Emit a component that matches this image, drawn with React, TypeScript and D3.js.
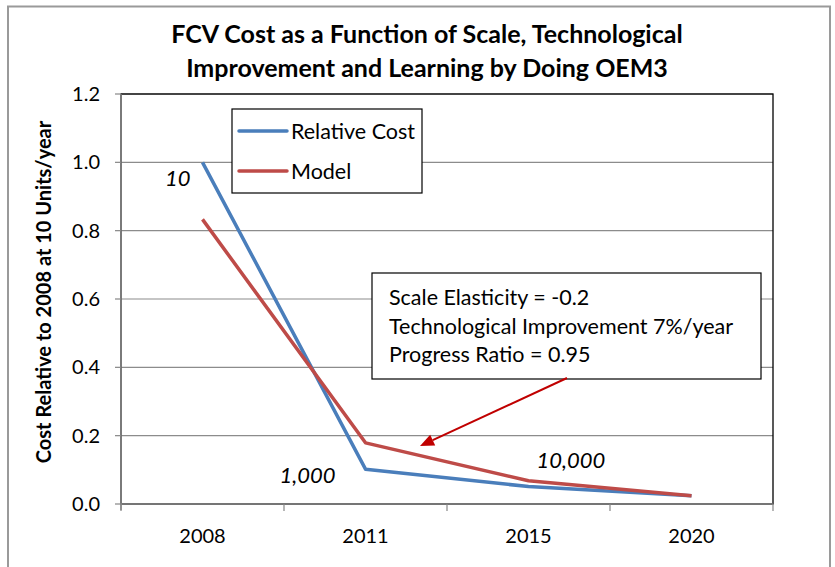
import React from "react";
import * as d3 from "d3";

const years = ["2008", "2011", "2015", "2020"];
const relativeCost = [1.0, 0.102, 0.051, 0.024];
const model = [0.833, 0.179, 0.068, 0.024];
const yTicks = [0, 0.2, 0.4, 0.6, 0.8, 1.0, 1.2];
const volumeLabels = [
  { text: "10", year: "2008", value: 0.95, dx: -12 },
  { text: "1,000", year: "2011", value: 0.082, dx: -30 },
  { text: "10,000", year: "2015", value: 0.125, dx: 8 },
];
const titleLines = [
  "FCV Cost as a Function of Scale, Technological",
  "Improvement and Learning by Doing OEM3",
];
const noteLines = [
  "Scale Elasticity = -0.2",
  "Technological Improvement 7%/year",
  "Progress Ratio = 0.95",
];
const series = [
  { name: "Relative Cost", values: relativeCost, color: "#4A7EBB" },
  { name: "Model", values: model, color: "#BE4B48" },
];

const W = 835;
const H = 567;
const FONT = "Lato, 'Open Sans', sans-serif";

export default function App() {
  const left = 121;
  const right = 773;
  const top = 94;
  const bottom = 504;
  const x = d3.scaleBand<string>().domain(years).range([left, right]);
  const y = d3.scaleLinear().domain([0, 1.2]).range([bottom, top]);
  const cx = (yr: string) => (x(yr) as number) + x.bandwidth() / 2;
  const line = d3
    .line<number>()
    .x((_, i) => cx(years[i]))
    .y((d) => y(d));

  const boundaries = years.map((yr) => x(yr) as number).concat([right]);

  // arrow
  const ax1 = 567, ay1 = 378, ax2 = 420, ay2 = 446;
  const ang = Math.atan2(ay2 - ay1, ax2 - ax1);
  const hl = 14, hw = 6;
  const bx = ax2 - hl * Math.cos(ang);
  const by = ay2 - hl * Math.sin(ang);
  const px = -Math.sin(ang) * hw;
  const py = Math.cos(ang) * hw;

  return (
    <svg
      width={W}
      height={H}
      style={{ position: "absolute", left: 0, top: 0, background: "#fff" }}
      fontFamily={FONT}
    >
      <rect x={0} y={0} width={W} height={H} fill="#fff" />
      <rect x={8} y={6.5} width={822} height={600} fill="#fff" stroke="#9a9a9a" strokeWidth={2} />

      {titleLines.map((t, i) => (
        <text
          key={i}
          x={427}
          y={43 + i * 34}
          textAnchor="middle"
          fontSize={25}
          fontWeight="bold"
          fill="#000"
        >
          {t}
        </text>
      ))}

      {/* gridlines */}
      {yTicks.map((t) => (
        <line key={t} x1={left} x2={right} y1={y(t)} y2={y(t)} stroke="#8c8c8c" strokeWidth={1.2} />
      ))}
      {/* plot border */}
      <rect x={left} y={top} width={right - left} height={bottom - top} fill="none" stroke="#000" strokeWidth={1.3} />
      {/* axes */}
      <line x1={left} x2={left} y1={top} y2={bottom + 6} stroke="#868686" strokeWidth={1.5} />
      <line x1={left} x2={right} y1={bottom} y2={bottom} stroke="#868686" strokeWidth={1.5} />
      {yTicks.map((t) => (
        <g key={"yt" + t}>
          <line x1={left - 6} x2={left} y1={y(t)} y2={y(t)} stroke="#868686" strokeWidth={1.2} />
          <text x={100} y={y(t) + 7} textAnchor="end" fontSize={20} fill="#000">
            {t.toFixed(1)}
          </text>
        </g>
      ))}
      {boundaries.map((b, i) => (
        <line key={"xt" + i} x1={b} x2={b} y1={bottom} y2={bottom + 7} stroke="#868686" strokeWidth={1.2} />
      ))}
      {years.map((yr) => (
        <text key={yr} x={cx(yr)} y={543} textAnchor="middle" fontSize={20} fill="#000">
          {yr}
        </text>
      ))}

      <text
        transform={`translate(51,292) rotate(-90)`}
        textAnchor="middle"
        fontSize={20}
        fontWeight="bold"
        fill="#000"
      >
        Cost Relative to 2008 at 10 Units/year
      </text>

      {/* series */}
      {series.map((s) => (
        <path
          key={s.name}
          d={line(s.values) as string}
          fill="none"
          stroke={s.color}
          strokeWidth={3.5}
          strokeLinejoin="round"
        />
      ))}

      {/* volume labels */}
      {volumeLabels.map((l) => (
        <text
          key={l.text}
          x={cx(l.year) + l.dx}
          y={y(l.value) + 7}
          fontSize={22}
          fontStyle="italic"
          textAnchor={l.dx < 0 ? "end" : "start"}
          fill="#000"
        >
          {l.text}
        </text>
      ))}

      {/* legend */}
      <rect x={232} y={109} width={190} height={84} fill="#fff" stroke="#000" strokeWidth={1.2} />
      {series.map((s, i) => (
        <g key={"lg" + s.name}>
          <line x1={239} x2={287} y1={131 + i * 40} y2={131 + i * 40} stroke={s.color} strokeWidth={3.5} strokeLinecap="round" />
          <text x={291} y={131 + i * 40 + 7.5} fontSize={21.5} fill="#000">
            {s.name}
          </text>
        </g>
      ))}

      {/* annotation */}
      <rect x={372} y={273} width={389} height={106} fill="#fff" stroke="#000" strokeWidth={1.2} />
      {noteLines.map((t, i) => (
        <text key={i} x={389} y={305 + i * 28.5} fontSize={21.5} fill="#000">
          {t}
        </text>
      ))}
      <line x1={ax1} y1={ay1} x2={bx} y2={by} stroke="#C00000" strokeWidth={2} />
      <polygon
        points={`${ax2},${ay2} ${bx + px},${by + py} ${bx - px},${by - py}`}
        fill="#C00000"
      />
    </svg>
  );
}
